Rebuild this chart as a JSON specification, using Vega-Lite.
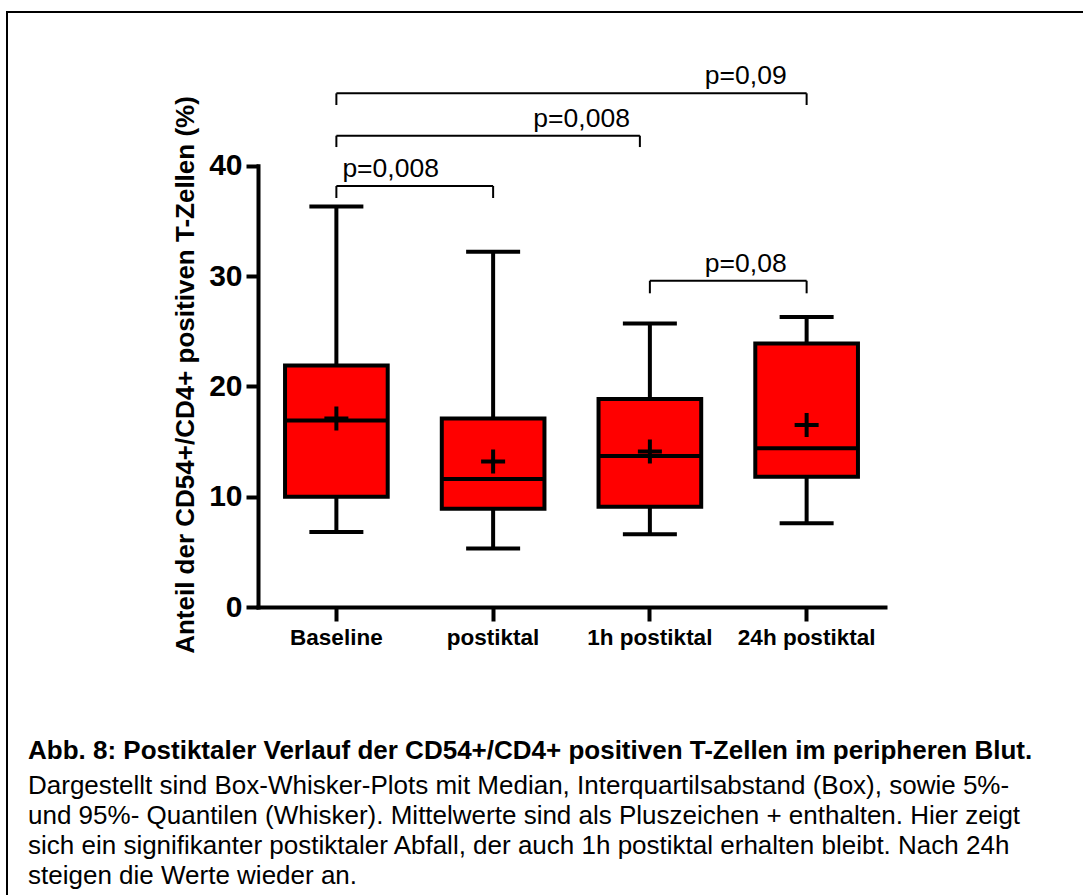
{
  "$schema": "https://vega.github.io/schema/vega-lite/v6.json",
  "width": 1090,
  "height": 893,
  "padding": {"left": 7, "top": 12, "right": 0, "bottom": 0},
  "background": "white",
  "config": {
    "font": "Liberation Sans, Arial, sans-serif",
    "view": {"stroke": "black", "strokeWidth": 2},
    "axis": {"labelColor": "black", "titleColor": "black", "domainColor": "black", "tickColor": "black", "grid": false}
  },
  "title": {
    "text": "Abb. 8: Postiktaler Verlauf der CD54+/CD4+ positiven T-Zellen im peripheren Blut.",
    "subtitle": [
      "Dargestellt sind Box-Whisker-Plots mit Median, Interquartilsabstand (Box), sowie 5%-",
      "und 95%- Quantilen (Whisker). Mittelwerte sind als Pluszeichen + enthalten. Hier zeigt",
      "sich ein signifikanter postiktaler Abfall, der auch 1h postiktal erhalten bleibt. Nach 24h",
      "steigen die Werte wieder an."
    ],
    "orient": "bottom",
    "anchor": "start",
    "frame": "group",
    "align": "left",
    "offset": -167,
    "dx": 21,
    "font": "Liberation Sans, Arial, sans-serif",
    "fontSize": 26,
    "fontWeight": "bold",
    "color": "black",
    "subtitleFont": "Liberation Sans, Arial, sans-serif",
    "subtitleFontSize": 26,
    "subtitleColor": "black",
    "subtitleLineHeight": 30,
    "subtitlePadding": 9
  },
  "datasets": {
    "boxen": [
      {"gruppe": "Baseline", "p5": 6.8, "q1": 10.0, "median": 16.9, "q3": 21.9, "p95": 36.3, "mittel": 17.1},
      {"gruppe": "postiktal", "p5": 5.3, "q1": 8.9, "median": 11.6, "q3": 17.1, "p95": 32.2, "mittel": 13.2},
      {"gruppe": "1h postiktal", "p5": 6.6, "q1": 9.1, "median": 13.7, "q3": 18.85, "p95": 25.7, "mittel": 14.1},
      {"gruppe": "24h postiktal", "p5": 7.6, "q1": 11.8, "median": 14.4, "q3": 23.9, "p95": 26.3, "mittel": 16.5}
    ],
    "klammern": [
      {"von": "Baseline", "bis": "postiktal", "p": "p=0,008", "hoehe": 38.17, "fuss": 37.08},
      {"von": "Baseline", "bis": "1h postiktal", "p": "p=0,008", "hoehe": 42.73, "fuss": 41.7},
      {"von": "Baseline", "bis": "24h postiktal", "p": "p=0,09", "hoehe": 46.57, "fuss": 45.51},
      {"von": "1h postiktal", "bis": "24h postiktal", "p": "p=0,08", "hoehe": 29.58, "fuss": 28.44}
    ]
  },
  "layer": [
    {
      "data": {"name": "boxen"},
      "mark": {"type": "rule", "color": "black", "strokeWidth": 4},
      "encoding": {
        "x": {
          "field": "gruppe", "type": "nominal", "title": null,
          "scale": {"type": "band", "domain": ["Baseline", "postiktal", "1h postiktal", "24h postiktal"], "range": [251, 878], "paddingInner": 0, "paddingOuter": 0},
          "axis": {"title": null, "orient": "bottom", "labelAngle": 0, "labelFontSize": 22.5, "labelFontWeight": "bold", "labelPadding": 5, "tickSize": 14, "tickWidth": 4, "domainWidth": 4, "domainCap": "square", "offset": -298, "zindex": 1}
        },
        "y": {
          "field": "p5", "type": "quantitative", "title": "Anteil der CD54+/CD4+ positiven T-Zellen (%)",
          "scale": {"domain": [0, 40], "range": [595, 153.8], "nice": false, "zero": false},
          "axis": {"title": "Anteil der CD54+/CD4+ positiven T-Zellen (%)", "orient": "left", "titleFontSize": 26, "titleFontWeight": "bold", "titleAngle": -90, "titleX": -65, "titleY": 362.5, "titleBaseline": "alphabetic", "titleAlign": "center", "values": [0, 10, 20, 30, 40], "labelFontSize": 30, "labelFontWeight": "bold", "labelPadding": 4, "labelFlush": false, "tickSize": 12, "tickWidth": 4, "domainWidth": 4, "domainCap": "square", "offset": -251, "zindex": 1}
        },
        "y2": {"field": "p95"}
      }
    },
    {
      "data": {"name": "boxen"},
      "mark": {"type": "tick", "color": "black", "size": 54, "thickness": 4, "opacity": 1},
      "encoding": {
        "x": {"field": "gruppe", "type": "nominal", "title": null},
        "y": {"field": "p5", "type": "quantitative", "title": "Anteil der CD54+/CD4+ positiven T-Zellen (%)"}
      }
    },
    {
      "data": {"name": "boxen"},
      "mark": {"type": "tick", "color": "black", "size": 54, "thickness": 4, "opacity": 1},
      "encoding": {
        "x": {"field": "gruppe", "type": "nominal", "title": null},
        "y": {"field": "p95", "type": "quantitative", "title": "Anteil der CD54+/CD4+ positiven T-Zellen (%)"}
      }
    },
    {
      "data": {"name": "boxen"},
      "mark": {"type": "bar", "fill": "#ff0000", "stroke": "black", "strokeWidth": 4, "width": {"band": 0.655}, "opacity": 1},
      "encoding": {
        "x": {"field": "gruppe", "type": "nominal", "title": null},
        "y": {"field": "q1", "type": "quantitative", "title": "Anteil der CD54+/CD4+ positiven T-Zellen (%)"},
        "y2": {"field": "q3"}
      }
    },
    {
      "data": {"name": "boxen"},
      "mark": {"type": "tick", "color": "black", "size": 103, "thickness": 4, "opacity": 1},
      "encoding": {
        "x": {"field": "gruppe", "type": "nominal", "title": null},
        "y": {"field": "median", "type": "quantitative", "title": "Anteil der CD54+/CD4+ positiven T-Zellen (%)"}
      }
    },
    {
      "data": {"name": "boxen"},
      "mark": {"type": "point", "shape": "M-1,0H1M0,-1V1", "size": 576, "filled": false, "color": "black", "strokeWidth": 4, "opacity": 1},
      "encoding": {
        "x": {"field": "gruppe", "type": "nominal", "title": null},
        "y": {"field": "mittel", "type": "quantitative", "title": "Anteil der CD54+/CD4+ positiven T-Zellen (%)"}
      }
    },
    {
      "data": {"name": "klammern"},
      "transform": [{"filter": "!(datum.von === 'Baseline' && datum.bis === '1h postiktal')"}],
      "mark": {"type": "rule", "color": "black", "strokeWidth": 2},
      "encoding": {
        "x": {"field": "von", "type": "nominal", "title": null},
        "x2": {"field": "bis"},
        "y": {"field": "hoehe", "type": "quantitative", "title": "Anteil der CD54+/CD4+ positiven T-Zellen (%)"}
      }
    },
    {
      "data": {"name": "klammern"},
      "transform": [{"filter": "datum.von === 'Baseline' && datum.bis === '1h postiktal'"}],
      "mark": {"type": "rule", "color": "black", "strokeWidth": 2, "x2Offset": -10},
      "encoding": {
        "x": {"field": "von", "type": "nominal", "title": null},
        "x2": {"field": "bis"},
        "y": {"field": "hoehe", "type": "quantitative", "title": "Anteil der CD54+/CD4+ positiven T-Zellen (%)"}
      }
    },
    {
      "data": {"name": "klammern"},
      "mark": {"type": "rule", "color": "black", "strokeWidth": 2},
      "encoding": {
        "x": {"field": "von", "type": "nominal", "title": null},
        "y": {"field": "hoehe", "type": "quantitative", "title": "Anteil der CD54+/CD4+ positiven T-Zellen (%)"},
        "y2": {"field": "fuss"}
      }
    },
    {
      "data": {"name": "klammern"},
      "transform": [{"filter": "!(datum.von === 'Baseline' && datum.bis === '1h postiktal')"}],
      "mark": {"type": "rule", "color": "black", "strokeWidth": 2},
      "encoding": {
        "x": {"field": "bis", "type": "nominal", "title": null},
        "y": {"field": "hoehe", "type": "quantitative", "title": "Anteil der CD54+/CD4+ positiven T-Zellen (%)"},
        "y2": {"field": "fuss"}
      }
    },
    {
      "data": {"name": "klammern"},
      "transform": [{"filter": "datum.von === 'Baseline' && datum.bis === '1h postiktal'"}],
      "mark": {"type": "rule", "color": "black", "strokeWidth": 2, "xOffset": -10},
      "encoding": {
        "x": {"field": "bis", "type": "nominal", "title": null},
        "y": {"field": "hoehe", "type": "quantitative", "title": "Anteil der CD54+/CD4+ positiven T-Zellen (%)"},
        "y2": {"field": "fuss"}
      }
    },
    {
      "data": {"name": "klammern"},
      "transform": [{"filter": "datum.von === 'Baseline' && datum.bis === 'postiktal'"}],
      "mark": {"type": "text", "align": "left", "baseline": "alphabetic", "dx": 6, "dy": -9, "fontSize": 26.5, "color": "black"},
      "encoding": {
        "x": {"field": "von", "type": "nominal", "title": null},
        "y": {"field": "hoehe", "type": "quantitative", "title": "Anteil der CD54+/CD4+ positiven T-Zellen (%)"},
        "text": {"field": "p"}
      }
    },
    {
      "data": {"name": "klammern"},
      "transform": [{"filter": "!(datum.von === 'Baseline' && datum.bis === 'postiktal')"}],
      "mark": {"type": "text", "align": "right", "baseline": "alphabetic", "dx": -20, "dy": -9, "fontSize": 26.5, "color": "black"},
      "encoding": {
        "x": {"field": "bis", "type": "nominal", "title": null},
        "y": {"field": "hoehe", "type": "quantitative", "title": "Anteil der CD54+/CD4+ positiven T-Zellen (%)"},
        "text": {"field": "p"}
      }
    }
  ]
}
